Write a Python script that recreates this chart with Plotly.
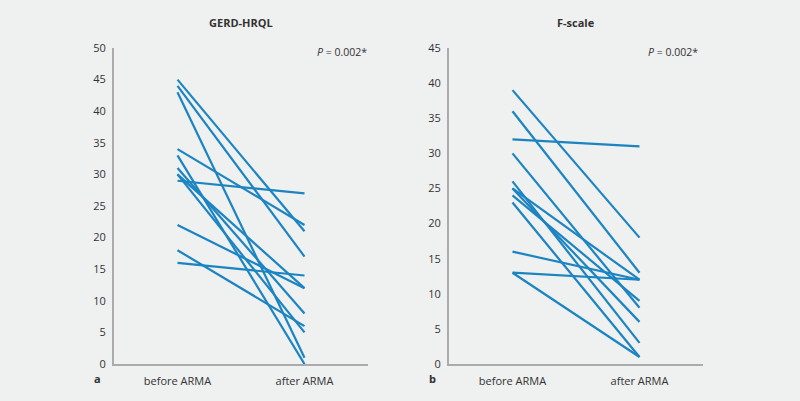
import plotly.graph_objects as go

categories = ["before ARMA", "after ARMA"]

gerd_before = [45, 44, 43, 34, 33, 31, 30, 30, 29, 22, 18, 16]
gerd_after = [21, 17, 1, 22, 0, 8, 12, 5, 27, 12, 6, 14]

fscale_before = [39, 36, 32, 30, 26, 25, 25, 24, 23, 16, 13, 13]
fscale_after = [18, 13, 31, 8, 3, 12, 6, 9, 1, 12, 12, 1]

gerd_ticks = [0, 5, 10, 15, 20, 25, 30, 35, 40, 45, 50]
fscale_ticks = [0, 5, 10, 15, 20, 25, 30, 35, 40, 45]

BG = "#eff0f0"
LINE = "#1b84c1"
AX = "#ababab"
TXT = "#333333"
FONT = "Open Sans"

fig = go.Figure()

for b, a in zip(gerd_before, gerd_after):
    fig.add_trace(go.Scatter(x=categories, y=[b, a], mode="lines",
                             line=dict(color=LINE, width=2.2),
                             xaxis="x", yaxis="y", showlegend=False, hoverinfo="skip"))
for b, a in zip(fscale_before, fscale_after):
    fig.add_trace(go.Scatter(x=categories, y=[b, a], mode="lines",
                             line=dict(color=LINE, width=2.2),
                             xaxis="x2", yaxis="y2", showlegend=False, hoverinfo="skip"))

H = 401.0
ydom = [(H - 364) / H, (H - 48) / H]

xcommon = dict(type="category", range=[-0.5, 1.5], showline=True, linecolor=AX, linewidth=2,
               showgrid=False, zeroline=False, ticks="outside", ticklen=6,
               tickcolor="rgba(0,0,0,0)", tickfont=dict(family=FONT, size=11, color=TXT),
               fixedrange=True, automargin=False)
ycommon = dict(showline=True, linecolor=AX, linewidth=2, showgrid=False, zeroline=False,
               ticks="outside", ticklen=4, tickcolor="rgba(0,0,0,0)",
               tickfont=dict(family=FONT, size=11, color=TXT), fixedrange=True,
               automargin=False)

fig.update_layout(
    width=800, height=401,
    margin=dict(l=0, r=0, t=0, b=0, pad=0, autoexpand=False),
    paper_bgcolor=BG, plot_bgcolor=BG,
    xaxis=dict(domain=[114 / 800, 368 / 800], anchor="y", **xcommon),
    yaxis=dict(domain=ydom, anchor="x", range=[0, 50], tickvals=gerd_ticks, **ycommon),
    xaxis2=dict(domain=[449 / 800, 703 / 800], anchor="y2", **xcommon),
    yaxis2=dict(domain=ydom, anchor="x2", range=[0, 45], tickvals=fscale_ticks, **ycommon),
)

def ann(text, x, y, xanchor="center", size=11, bold=False):
    if bold:
        text = "<b>" + text + "</b>"
    fig.add_annotation(text=text, x=x / 800, y=1 - y / H, xref="paper", yref="paper",
                       xanchor=xanchor, yanchor="middle", showarrow=False,
                       font=dict(family=FONT, size=size, color=TXT))

ann("GERD-HRQL", 241, 23, bold=True)
ann("F-scale", 576, 23, bold=True)
ann("<i>P</i> = 0.002*", 369, 52, xanchor="right", size=10.5)
ann("<i>P</i> = 0.002*", 700, 52, xanchor="right", size=10.5)
ann("a", 97, 378, bold=True)
ann("b", 432, 378, bold=True)

fig.write_html(
    "out.html",
    config={"displayModeBar": False},
    post_script="document.body.style.margin='0';document.body.style.overflow='hidden';"
                "document.body.style.background='" + BG + "';",
)
